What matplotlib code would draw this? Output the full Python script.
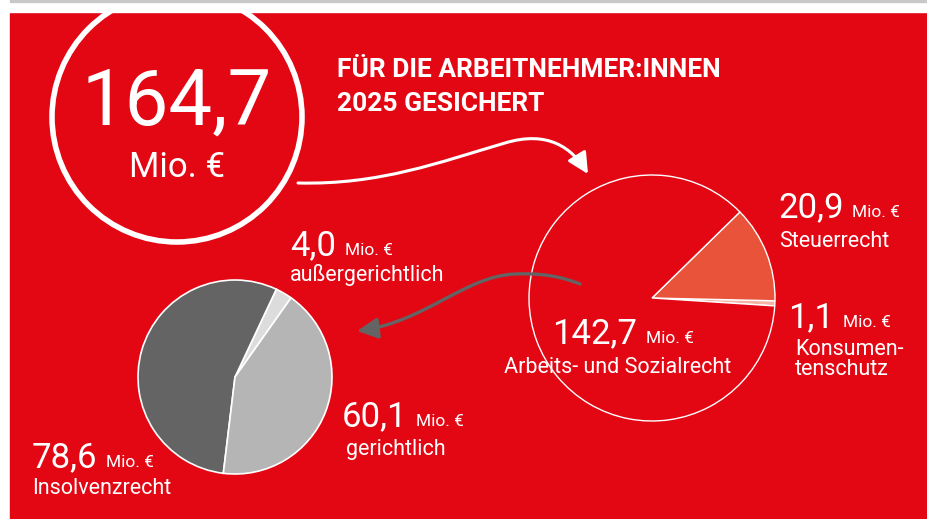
import matplotlib
matplotlib.use('Agg')
import matplotlib.pyplot as plt
from matplotlib.patches import Rectangle, Circle, FancyArrowPatch
from matplotlib.path import Path

# Daten
gesamt = 164.7
bereich_labels = ['Konsumentenschutz', 'Steuerrecht', 'Arbeits- und Sozialrecht']
bereich_werte = [1.1, 20.9, 142.7]
bereich_farben = ['#F5B3A6', '#E8533A', '#E30613']
arbeit_labels = ['außergerichtlich', 'Insolvenzrecht', 'gerichtlich']
arbeit_werte = [4.0, 78.6, 60.1]
arbeit_farben = ['#DCDCDC', '#646464', '#B5B5B5']

ROT = '#E30613'
W, H = 927, 519
plt.rcParams['font.family'] = ['Roboto', 'DejaVu Sans']


def Y(py):
    # Pixelzeile (von oben) -> Datenkoordinate (von unten)
    return H - py


def fmt(v):
    return f'{v:.1f}'.replace('.', ',')


fig = plt.figure(figsize=(W / 100, H / 100), dpi=100, facecolor='white')
ax = fig.add_axes([0, 0, 1, 1])

# Hintergrund
ax.add_patch(Rectangle((10, Y(518)), W - 10, 506, color=ROT, zorder=0))

# großer Kreis mit Gesamtsumme
ax.add_patch(Circle((177, Y(117)), 125, fill=False, ec='white', lw=4, zorder=2))
ax.add_patch(Rectangle((0, Y(12)), W, 12, color='white', zorder=3))
ax.add_patch(Rectangle((10, Y(2)), W - 10, 2, color='#C8C8C8', zorder=4))
ax.text(177, Y(125), fmt(gesamt), color='white', fontsize=56,
        ha='center', va='baseline', zorder=5)
ax.text(177, Y(177), 'Mio. €', color='white', fontsize=25,
        ha='center', va='baseline', zorder=5)

ax.text(337, Y(77), 'FÜR DIE ARBEITNEHMER:INNEN', color='white',
        fontsize=19, fontweight='bold', ha='left', va='baseline', zorder=5)
ax.text(337, Y(111), '2025 GESICHERT', color='white',
        fontsize=19, fontweight='bold', ha='left', va='baseline', zorder=5)

# rechter Kreis: Aufteilung nach Rechtsbereich
ax.pie(bereich_werte, colors=bereich_farben, startangle=-3.7, counterclock=True,
       center=(652, Y(298)), radius=123, frame=True,
       wedgeprops=dict(edgecolor='white', linewidth=1.0))

# linker Kreis: Arbeits- und Sozialrecht
ax.pie(arbeit_werte, colors=arbeit_farben, startangle=54.7, counterclock=True,
       center=(235, Y(377)), radius=97, frame=True,
       wedgeprops=dict(edgecolor='white', linewidth=1.2))

# Pfeile
weiss = Path([(298, Y(183)), (380, Y(185)), (440, Y(162)), (505, Y(143)),
              (548, Y(130)), (572, Y(148)), (588, Y(174))],
             [Path.MOVETO, Path.CURVE4, Path.CURVE4, Path.CURVE4,
              Path.CURVE4, Path.CURVE4, Path.CURVE4])
ax.add_patch(FancyArrowPatch(path=weiss, arrowstyle='-|>,head_length=0.9,head_width=0.45',
                             mutation_scale=14, color='white', lw=2.2, zorder=5))
grau = Path([(580, Y(284)), (560, Y(276)), (540, Y(273)), (515, Y(274)),
             (465, Y(276)), (425, Y(322)), (357, Y(331))],
            [Path.MOVETO, Path.CURVE4, Path.CURVE4, Path.CURVE4,
             Path.CURVE4, Path.CURVE4, Path.CURVE4])
ax.add_patch(FancyArrowPatch(path=grau, arrowstyle='-|>,head_length=0.9,head_width=0.45',
                             mutation_scale=14, color='#646464', lw=2.4, zorder=5))

# Beschriftungen: (Wert, Bezeichnungszeilen, x Zahl, Grundlinie Zahl, Grundlinie Text, x Text)
beschriftung = [
    (bereich_werte[1], ['Steuerrecht'], 778, 217, 247, 779),
    (bereich_werte[0], ['Konsumen-', 'tenschutz'], 788, 327, 355, 795),
    (bereich_werte[2], ['Arbeits- und Sozialrecht'], 552, 343, 373, 504),
    (arbeit_werte[0], ['außergerichtlich'], 290, 255, 281, 290),
    (arbeit_werte[2], ['gerichtlich'], 342, 426, 455, 346),
    (arbeit_werte[1], ['Insolvenzrecht'], 32, 467, 494, 32),
]
zahlen = []
for wert, zeilen, x, yz, yt, xt in beschriftung:
    t = ax.text(x, Y(yz), fmt(wert), color='white', fontsize=25,
                ha='left', va='baseline', zorder=6)
    zahlen.append((t, yz))
    for i, zeile in enumerate(zeilen):
        ax.text(xt, Y(yt + 20 * i), zeile, color='white', fontsize=15.5,
                ha='left', va='baseline', zorder=6)

ax.set_xlim(0, W)
ax.set_ylim(0, H)
ax.set_aspect('equal')
ax.axis('off')

fig.canvas.draw()
for t, yz in zahlen:
    bb = t.get_window_extent()
    ax.text(bb.x1 + 9, Y(yz), 'Mio. €', color='white', fontsize=12.5,
            ha='left', va='baseline', zorder=6)

fig.savefig('out.png', dpi=100, facecolor='white')
